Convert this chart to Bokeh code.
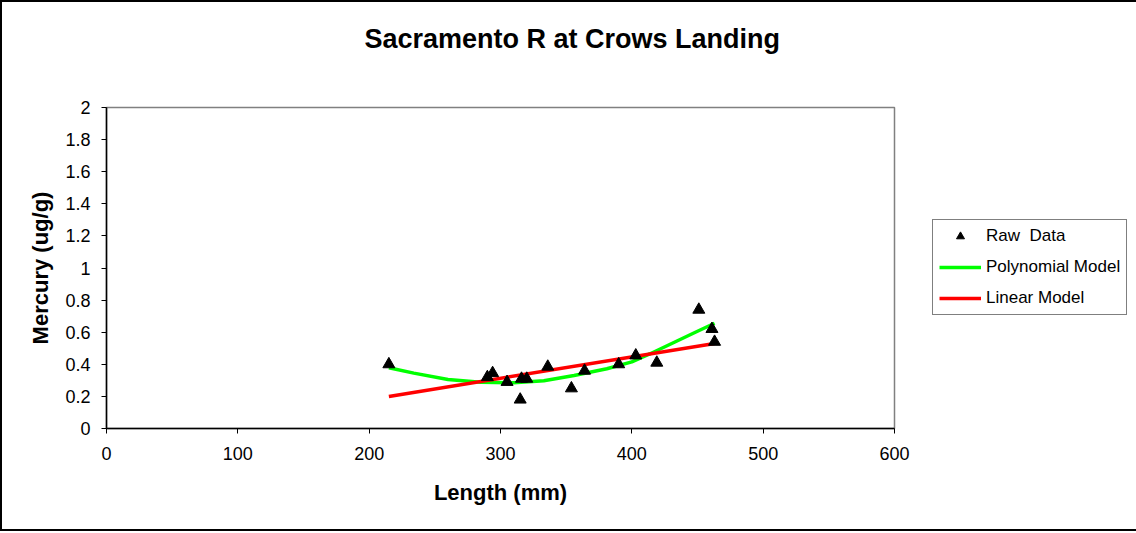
from bokeh.plotting import figure
from bokeh.models import Range1d, FixedTicker, Legend, LegendItem, ColumnDataSource, LinearAxis
from bokeh.embed import file_html
from bokeh.resources import INLINE

# ---- data ----
raw_length = [215, 290, 294, 305, 315, 316, 320, 336, 354, 364, 390, 403, 419, 451, 461, 463]
raw_mercury = [0.40, 0.32, 0.345, 0.29, 0.18, 0.31, 0.31, 0.385, 0.25, 0.36, 0.40, 0.455, 0.41, 0.74, 0.62, 0.54]

poly_length = [215, 234, 260, 285, 310, 333, 356, 381, 400, 414, 432, 448, 463]
poly_mercury = [0.378, 0.345, 0.305, 0.288, 0.285, 0.298, 0.330, 0.372, 0.415, 0.466, 0.536, 0.598, 0.656]

lin_length = [215, 463]
lin_mercury = [0.20, 0.53]

x_ticks = [0, 100, 200, 300, 400, 500, 600]
x_tick_labels = ["0", "100", "200", "300", "400", "500", "600"]
y_ticks = [0, 0.2, 0.4, 0.6, 0.8, 1.0, 1.2, 1.4, 1.6, 1.8, 2.0]
y_tick_labels = ["0", "0.2", "0.4", "0.6", "0.8", "1", "1.2", "1.4", "1.6", "1.8", "2"]

title_text = "Sacramento R at Crows Landing"
x_label = "Length (mm)"
y_label = "Mercury (ug/g)"
series_names = ["Raw  Data", "Polynomial Model", "Linear Model"]

FONT = "Liberation Sans"

p = figure(frame_width=788, frame_height=321, output_backend="svg", toolbar_location=None,
           x_range=Range1d(0, 600), y_range=Range1d(0, 2),
           min_border_left=104, min_border_right=234,
           min_border_top=105, min_border_bottom=101)
p.styles = {"border": "2px solid black"}
p.background_fill_color = "white"
p.border_fill_color = "white"
p.xgrid.visible = False
p.ygrid.visible = False
p.outline_line_color = "#808080"
p.outline_line_width = 1.5

for ax in (p.xaxis[0], p.yaxis[0]):
    ax.axis_line_color = "black"
    ax.axis_line_width = 1.5
    ax.major_tick_line_color = "black"
    ax.major_tick_in = 0
    ax.major_tick_out = 5
    ax.minor_tick_line_color = None
    ax.major_label_text_font = FONT
    ax.major_label_text_font_size = "18px"
    ax.major_label_text_color = "black"
    ax.axis_label_text_font = FONT
    ax.axis_label_text_font_size = "22px"
    ax.axis_label_text_font_style = "bold"
    ax.axis_label_text_color = "black"

p.xaxis.ticker = FixedTicker(ticks=x_ticks)
p.xaxis.major_label_overrides = {t: l for t, l in zip(x_ticks, x_tick_labels)}
p.yaxis.ticker = FixedTicker(ticks=y_ticks)
p.yaxis.major_label_overrides = {t: l for t, l in zip(y_ticks, y_tick_labels)}
p.xaxis.axis_label = x_label
p.yaxis.axis_label = y_label
p.xaxis.major_label_standoff = 13
p.yaxis.major_label_standoff = 11
p.xaxis.axis_label_standoff = 17
p.yaxis.axis_label_standoff = 9

# blank spacer axis above the frame (no line, no tick marks, no labels):
# it only reserves room so that the title sits higher, as in the reference
spacer = LinearAxis(ticker=FixedTicker(ticks=[300]), axis_line_color=None,
                    major_tick_line_color=None, minor_tick_line_color=None,
                    major_tick_in=0, major_tick_out=50, major_label_standoff=0,
                    major_label_overrides={300: ""}, major_label_text_font_size="1px")
p.add_layout(spacer, "above")

raw_src = ColumnDataSource(dict(x=raw_length, y=raw_mercury))
poly_src = ColumnDataSource(dict(x=poly_length, y=poly_mercury))
lin_src = ColumnDataSource(dict(x=lin_length, y=lin_mercury))

r_poly = p.line("x", "y", source=poly_src, line_color="#00FF00", line_width=3.5)
r_lin = p.line("x", "y", source=lin_src, line_color="#FF0000", line_width=3.5)
r_raw = p.scatter("x", "y", source=raw_src, marker="triangle", size=12,
                  fill_color="black", line_color="black")

legend = Legend(items=[LegendItem(label=series_names[0], renderers=[r_raw]),
                       LegendItem(label=series_names[1], renderers=[r_poly]),
                       LegendItem(label=series_names[2], renderers=[r_lin])],
                location=(38, 113), margin=0, padding=6, spacing=11,
                glyph_width=42, glyph_height=20, label_height=20, label_standoff=5,
                label_text_font=FONT, label_text_font_size="17px",
                label_text_color="black", border_line_color="black",
                border_line_width=1, background_fill_color="white")
p.add_layout(legend, "right")

p.title.text = title_text
p.title.align = "left"
p.title.offset = 258
p.title.text_font = FONT
p.title.text_font_size = "27px"
p.title.text_font_style = "bold"
p.title.text_color = "black"
p.title.standoff = 8

open("out.html", "w").write(file_html(p, INLINE))
